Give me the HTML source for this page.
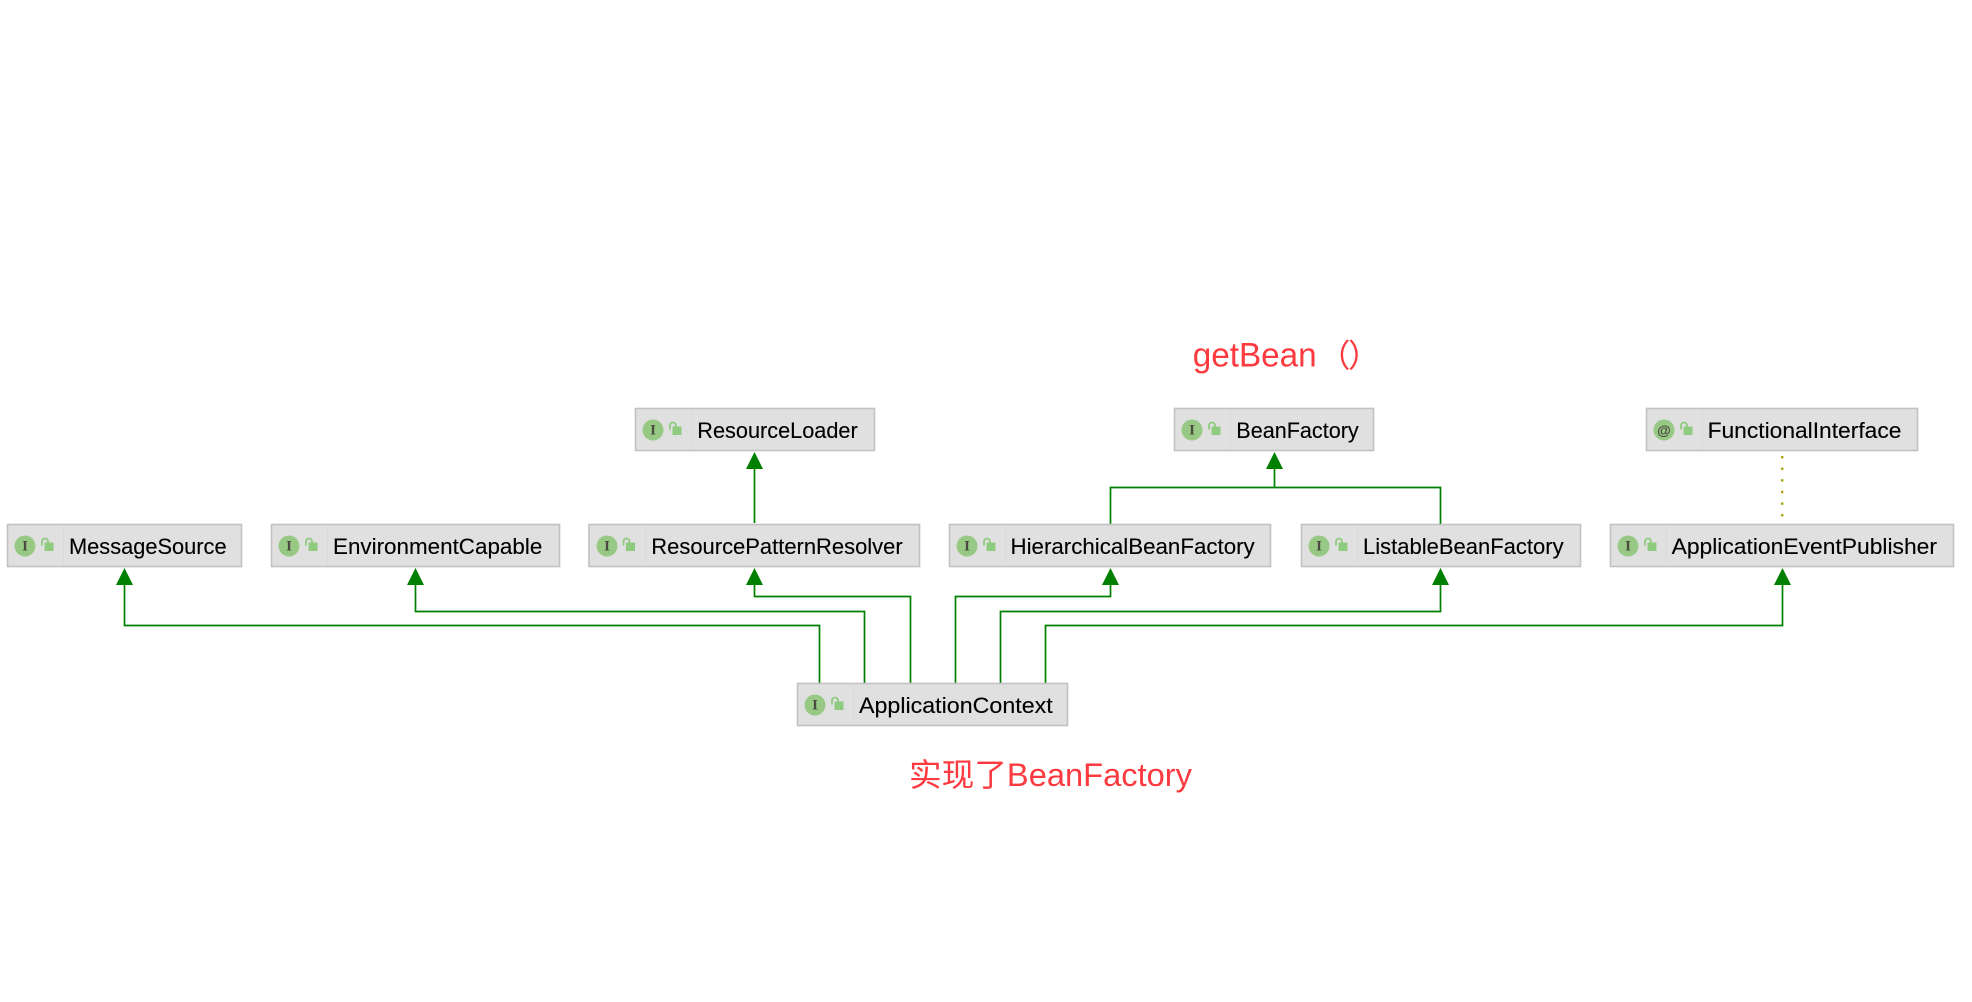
<!DOCTYPE html>
<html><head><meta charset="utf-8"><style>
html,body{margin:0;padding:0;background:#fff}
svg{display:block}
.n{font:22px "Liberation Sans","DejaVu Sans",sans-serif;fill:#000;stroke:#000;stroke-width:.12}
.i{font:bold 15px "Liberation Serif",serif;fill:#4a4a40;text-anchor:middle}
.r{font:32px "Liberation Sans","Noto Sans CJK SC",sans-serif;fill:#fd3a3f}
.b{fill:#e0e0e0;stroke:#c2c2c2;stroke-width:1.6}
.s{stroke:#d9d9d9;stroke-width:1}
.c{fill:#97c985}
.l{fill:#8fcb7e}
.sh{fill:none;stroke:#8fcb7e;stroke-width:1.8}
.e{fill:none;stroke:#008000;stroke-width:1.7}
.a{fill:#008000}
</style></head><body>
<svg width="1972" height="1002" viewBox="0 0 1972 1002" xmlns="http://www.w3.org/2000/svg">
<defs>
<g id="lk"><path class="sh" d="M34.5 21v-4a3 3 0 0 1 6 0v1"/><rect class="l" x="37" y="18" width="9" height="8.5"/></g>
</defs>
<rect width="1972" height="1002" fill="#fff"/>

<!-- connectors -->
<path class="e" d="M819.5 683V625.5H124.5V584"/>
<path class="e" d="M864.5 683V611.5H415.5V584"/>
<path class="e" d="M910.5 683V596.5H754.5V584"/>
<path class="e" d="M955.5 683V596.5H1110.5V584"/>
<path class="e" d="M1000.5 683V611.5H1440.5V584"/>
<path class="e" d="M1045.5 683V625.5H1782.5V584"/>
<path class="e" d="M754.5 523V467"/>
<path class="e" d="M1110.5 524V487.5H1440.5V524"/>
<path class="e" d="M1274.5 487V467"/>

<polygon class="a" points="124.5,568 116,585 133,585"/>
<polygon class="a" points="415.5,568 407,585 424,585"/>
<polygon class="a" points="754.5,568 746,585 763,585"/>
<polygon class="a" points="1110.5,568 1102,585 1119,585"/>
<polygon class="a" points="1440.5,568 1432,585 1449,585"/>
<polygon class="a" points="1782.5,568 1774,585 1791,585"/>
<polygon class="a" points="754.5,452 746,469 763,469"/>
<polygon class="a" points="1274.5,452 1266,469 1283,469"/>

<g fill="#a8a810">
<rect x="1781" y="456" width="2.4" height="2.4"/>
<rect x="1781" y="467.6" width="2.4" height="2.4"/>
<rect x="1781" y="479.2" width="2.4" height="2.4"/>
<rect x="1781" y="490.8" width="2.4" height="2.4"/>
<rect x="1781" y="502.4" width="2.4" height="2.4"/>
<rect x="1781" y="514" width="2.4" height="2.4"/>
</g>

<!-- MessageSource -->
<rect class="b" x="7.5" y="524.5" width="234" height="42"/>
<line class="s" x1="63.5" y1="526" x2="63.5" y2="566"/>
<circle class="c" cx="25" cy="546" r="10.5"/><text class="i" x="25" y="550.5">I</text>
<use href="#lk" transform="translate(7.5,524.5)"/>
<text class="n" x="69" y="554" textLength="157.6" lengthAdjust="spacingAndGlyphs">MessageSource</text>

<!-- EnvironmentCapable -->
<rect class="b" x="271.5" y="524.5" width="288" height="42"/>
<line class="s" x1="327.5" y1="526" x2="327.5" y2="566"/>
<circle class="c" cx="289" cy="546" r="10.5"/><text class="i" x="289" y="550.5">I</text>
<use href="#lk" transform="translate(271.5,524.5)"/>
<text class="n" x="333" y="554" textLength="209.3" lengthAdjust="spacingAndGlyphs">EnvironmentCapable</text>

<!-- ResourcePatternResolver -->
<rect class="b" x="589" y="524.5" width="330.5" height="42"/>
<line class="s" x1="645.5" y1="526" x2="645.5" y2="566"/>
<circle class="c" cx="607" cy="546" r="10.5"/><text class="i" x="607" y="550.5">I</text>
<use href="#lk" transform="translate(589,524.5)"/>
<text class="n" x="651.3" y="554" textLength="251.4" lengthAdjust="spacingAndGlyphs">ResourcePatternResolver</text>

<!-- HierarchicalBeanFactory -->
<rect class="b" x="949.5" y="524.5" width="321" height="42"/>
<line class="s" x1="1005.5" y1="526" x2="1005.5" y2="566"/>
<circle class="c" cx="967" cy="546" r="10.5"/><text class="i" x="967" y="550.5">I</text>
<use href="#lk" transform="translate(949.5,524.5)"/>
<text class="n" x="1010.5" y="554" textLength="244.2" lengthAdjust="spacingAndGlyphs">HierarchicalBeanFactory</text>

<!-- ListableBeanFactory -->
<rect class="b" x="1301.5" y="524.5" width="279" height="42"/>
<line class="s" x1="1357.5" y1="526" x2="1357.5" y2="566"/>
<circle class="c" cx="1319" cy="546" r="10.5"/><text class="i" x="1319" y="550.5">I</text>
<use href="#lk" transform="translate(1301.5,524.5)"/>
<text class="n" x="1363" y="554" textLength="200.6" lengthAdjust="spacingAndGlyphs">ListableBeanFactory</text>

<!-- ApplicationEventPublisher -->
<rect class="b" x="1610.5" y="524.5" width="343" height="42"/>
<line class="s" x1="1666.5" y1="526" x2="1666.5" y2="566"/>
<circle class="c" cx="1628" cy="546" r="10.5"/><text class="i" x="1628" y="550.5">I</text>
<use href="#lk" transform="translate(1610.5,524.5)"/>
<text class="n" x="1671.6" y="554" textLength="265.4" lengthAdjust="spacingAndGlyphs">ApplicationEventPublisher</text>

<!-- ResourceLoader -->
<rect class="b" x="635.5" y="408.5" width="239" height="42"/>
<line class="s" x1="691.5" y1="410" x2="691.5" y2="450"/>
<circle class="c" cx="653" cy="430" r="10.5"/><text class="i" x="653" y="434.5">I</text>
<use href="#lk" transform="translate(635.5,408.5)"/>
<text class="n" x="697.3" y="438" textLength="160.4" lengthAdjust="spacingAndGlyphs">ResourceLoader</text>

<!-- BeanFactory -->
<rect class="b" x="1174.5" y="408.5" width="199" height="42"/>
<line class="s" x1="1230.5" y1="410" x2="1230.5" y2="450"/>
<circle class="c" cx="1192" cy="430" r="10.5"/><text class="i" x="1192" y="434.5">I</text>
<use href="#lk" transform="translate(1174.5,408.5)"/>
<text class="n" x="1236.3" y="438" textLength="122.4" lengthAdjust="spacingAndGlyphs">BeanFactory</text>

<!-- FunctionalInterface -->
<rect class="b" x="1646.5" y="408.5" width="271" height="42"/>
<line class="s" x1="1702.5" y1="410" x2="1702.5" y2="450"/>
<circle class="c" cx="1664" cy="430" r="10.5"/><text class="i" x="1664" y="435" style="font:bold 14px 'Liberation Sans',sans-serif">@</text>
<use href="#lk" transform="translate(1646.5,408.5)"/>
<text class="n" x="1707.6" y="438" textLength="193.8" lengthAdjust="spacingAndGlyphs">FunctionalInterface</text>

<!-- ApplicationContext -->
<rect class="b" x="797.5" y="683.5" width="270" height="42"/>
<line class="s" x1="853.5" y1="685" x2="853.5" y2="725"/>
<circle class="c" cx="815" cy="705" r="10.5"/><text class="i" x="815" y="709.5">I</text>
<use href="#lk" transform="translate(797.5,683.5)"/>
<text class="n" x="859" y="713" textLength="193.7" lengthAdjust="spacingAndGlyphs">ApplicationContext</text>

<!-- annotations -->
<text class="r" x="1192.7" y="366.5" textLength="124" lengthAdjust="spacingAndGlyphs" style="font-size:34px">getBean</text>
<text class="r" x="1318.5" y="367">（</text>
<text class="r" x="1348" y="367">）</text>
<text class="r" x="909" y="786" textLength="283" lengthAdjust="spacingAndGlyphs">实现了BeanFactory</text>
</svg>
</body></html>
